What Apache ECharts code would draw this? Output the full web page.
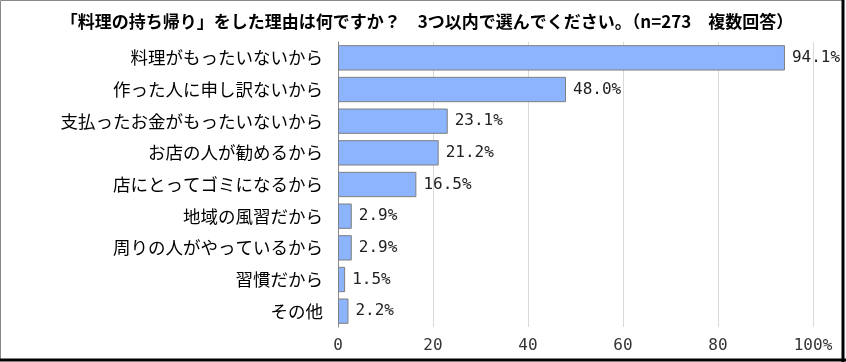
<!DOCTYPE html>
<html><head><meta charset="utf-8">
<script src="https://cdn.jsdelivr.net/npm/echarts@6/dist/echarts.min.js"></script>
<style>html,body{margin:0;padding:0;background:#fff}#c{width:846px;height:362px}</style>
</head><body><div id="c"></div>
<script>
const categories = ['料理がもったいないから','作った人に申し訳ないから','支払ったお金がもったいないから','お店の人が勧めるから','店にとってゴミになるから','地域の風習だから','周りの人がやっているから','習慣だから','その他'];
const values = [94.1, 48.0, 23.1, 21.2, 16.5, 2.9, 2.9, 1.5, 2.2];
const xTicks = [0, 20, 40, 60, 80, 100];
const titleText = '「料理の持ち帰り」をした理由は何ですか？　3つ以内で選んでください。（n=273　複数回答）';

const chart = echarts.init(document.getElementById('c'));
chart.setOption({
  animation: false,
  title: { text: titleText, left: 422, top: 8, textAlign: 'center',
    textStyle: { fontFamily: 'Noto Sans CJK JP', fontSize: 17, fontWeight: 'bold', color: '#000' } },
  grid: { left: 338, right: 33, top: 42, bottom: 35 },
  xAxis: { type: 'value', min: 0, max: 100, interval: 20,
    axisLine: { show: false }, axisTick: { show: false },
    splitLine: { lineStyle: { color: '#d9d9d9' } },
    axisLabel: { color: '#333', fontSize: 16, fontFamily: 'DejaVu Sans Mono', margin: 11,
      formatter: v => xTicks.includes(v) ? (v === 100 ? '100%' : String(v)) : '' } },
  yAxis: { type: 'category', data: categories, inverse: true,
    axisLine: { lineStyle: { color: '#888' } }, axisTick: { show: false },
    axisLabel: { color: '#000', fontSize: 17.5, fontFamily: 'Noto Sans CJK JP', margin: 15 } },
  series: [{ type: 'bar', data: values, barCategoryGap: '20%',
    itemStyle: { color: '#8cb4ff', borderColor: '#7f7f7f', borderWidth: 1 },
    label: { show: true, position: 'right', distance: 7, color: '#222', fontSize: 16,
      fontFamily: 'DejaVu Sans Mono', formatter: p => p.value.toFixed(1) + '%' } }],
  graphic: [
    { type: 'rect', shape: { x: 0.5, y: 0.5, width: 843, height: 359 }, style: { fill: 'none', stroke: '#888', lineWidth: 1 } },
    { type: 'line', shape: { x1: 843, y1: 0, x2: 843, y2: 362 }, style: { stroke: '#000', lineWidth: 3 } },
    { type: 'line', shape: { x1: 0, y1: 360, x2: 846, y2: 360 }, style: { stroke: '#000', lineWidth: 3 } }
  ]
});
</script></body></html>
